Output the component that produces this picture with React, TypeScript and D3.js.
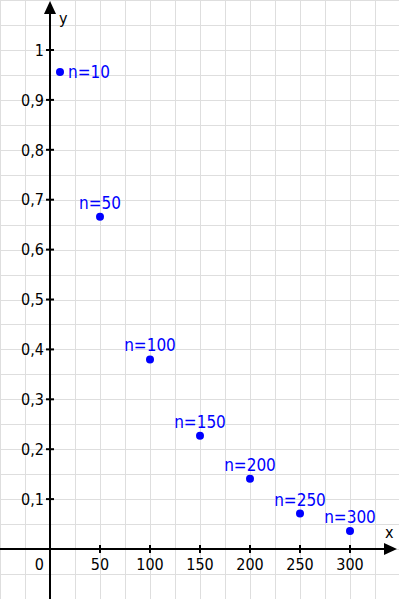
import React from "react";
import * as d3 from "d3";

const sampleSizes = [10, 50, 100, 150, 200, 250, 300];
const estimates = [0.956, 0.666, 0.38, 0.227, 0.141, 0.071, 0.036];
const pointLabels = ["n=10", "n=50", "n=100", "n=150", "n=200", "n=250", "n=300"];
const xTicks = [50, 100, 150, 200, 250, 300];
const yTicks = [0.1, 0.2, 0.3, 0.4, 0.5, 0.6, 0.7, 0.8, 0.9, 1];

const W = 399;
const H = 599;
const FONT = "'DejaVu Sans Condensed', 'DejaVu Sans', Verdana, sans-serif";
const BLUE = "#0000ff";

export default function App() {
  const x = d3.scaleLinear().domain([0, 300]).range([50, 350]);
  const y = d3.scaleLinear().domain([0, 1]).range([549, 50]);

  // minor grid every 25 units / 0.05
  const gridX = d3.range(-50, 351, 25);
  const gridY = d3.range(-2, 23).map((k) => k * 0.05);

  const x0 = x(0);
  const y0 = y(0);

  return (
    <div style={{ position: "fixed", left: 0, top: 0 }}>
      <svg width={W} height={H} style={{ display: "block", background: "#fff" }}>
        <g stroke="#dedede" strokeWidth={1}>
          {gridX.map((v) => (
            <line key={"gx" + v} x1={Math.round(x(v)) + 0.5} x2={Math.round(x(v)) + 0.5} y1={0} y2={H} />
          ))}
          {gridY.map((v, i) => (
            <line key={"gy" + i} y1={Math.round(y(v)) + 0.5} y2={Math.round(y(v)) + 0.5} x1={0} x2={W} />
          ))}
        </g>

        {/* axes */}
        <g stroke="#000" strokeWidth={2}>
          <line x1={0} x2={W - 10} y1={y0} y2={y0} />
          <line x1={x0} x2={x0} y1={H} y2={10} />
          {xTicks.map((t) => (
            <line key={"xt" + t} x1={x(t)} x2={x(t)} y1={y0 - 4} y2={y0 + 4} />
          ))}
          {yTicks.map((t) => (
            <line key={"yt" + t} x1={x0 - 4} x2={x0 + 4} y1={y(t)} y2={y(t)} />
          ))}
        </g>
        <path d={`M${W - 2},${y0} L${W - 15},${y0 - 6} L${W - 15},${y0 + 6} Z`} fill="#000" />
        <path d={`M${x0},1 L${x0 - 6},${14} L${x0 + 6},${14} Z`} fill="#000" />

        <g fontFamily={FONT} fontSize={16} fill="#000">
          {xTicks.map((t) => (
            <text key={"xl" + t} x={x(t)} y={570} textAnchor="middle">
              {t}
            </text>
          ))}
          <text x={44} y={570} textAnchor="end">0</text>
          {yTicks.map((t) => (
            <text key={"yl" + t} x={44} y={y(t)} dy="0.36em" textAnchor="end">
              {d3.format("")(t).replace(".", ",")}
            </text>
          ))}
          <text x={59} y={24}>y</text>
          <text x={385} y={538}>x</text>
        </g>

        <g>
          {sampleSizes.map((n, i) => (
            <circle key={"p" + n} cx={x(n)} cy={y(estimates[i])} r={4} fill={BLUE} />
          ))}
        </g>
        <g fontFamily={FONT} fontSize={17} fill={BLUE}>
          {sampleSizes.map((n, i) =>
            i === 0 ? (
              <text key={"l" + n} x={x(n) + 8} y={y(estimates[i]) + 6}>
                {pointLabels[i]}
              </text>
            ) : (
              <text key={"l" + n} x={x(n)} y={y(estimates[i]) - 8} textAnchor="middle">
                {pointLabels[i]}
              </text>
            )
          )}
        </g>
      </svg>
    </div>
  );
}
